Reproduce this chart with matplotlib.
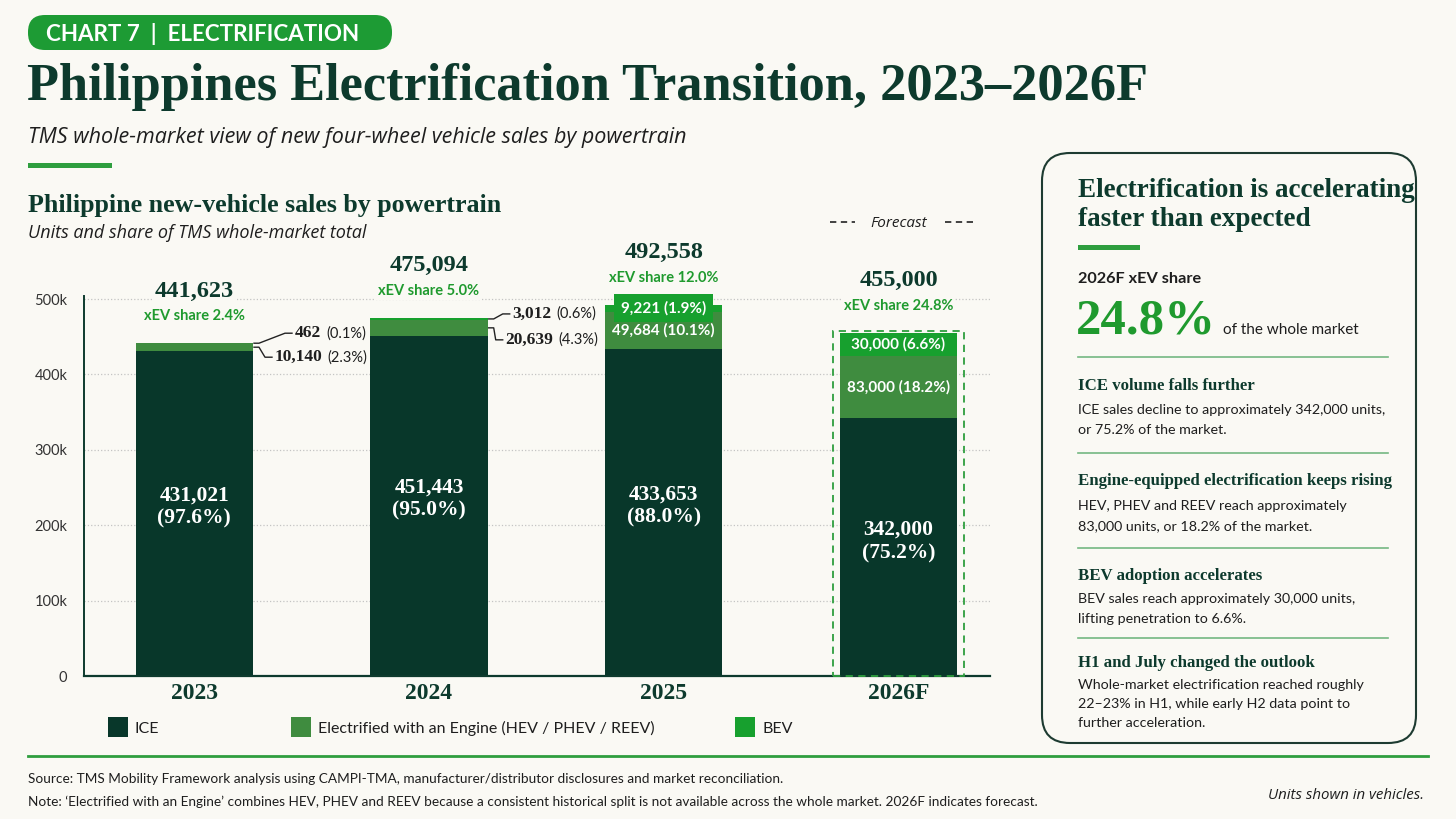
import matplotlib
matplotlib.use('Agg')
import matplotlib.pyplot as plt
from matplotlib.patches import Rectangle, FancyBboxPatch
import numpy as np

# ---------------- data ----------------
years = ['2023', '2024', '2025', '2026F']
ice = [431021, 451443, 433653, 342000]
ewe = [10140, 20639, 49684, 83000]
bev = [462, 3012, 9221, 30000]
totals = [441623, 475094, 492558, 455000]
xev_share = [2.4, 5.0, 12.0, 24.8]
ice_share = [97.6, 95.0, 88.0, 75.2]
ewe_share = [2.3, 4.3, 10.1, 18.2]
bev_share = [0.1, 0.6, 1.9, 6.6]
yticks = [0, 100000, 200000, 300000, 400000, 500000]
ytick_labels = ['0', '100k', '200k', '300k', '400k', '500k']
legend_labels = ['ICE', 'Electrified with an Engine (HEV / PHEV / REEV)', 'BEV']

# ---------------- style ----------------
BG = '#faf9f4'
DARK = '#0d3a2d'
TXT = '#1e1e1e'
ICE_C = '#08372a'
EWE_C = '#3f8c3f'
BEV_C = '#17a02e'
GREEN = '#1f9a2e'
LINE_G = '#2e9e3e'
THIN_G = '#74b882'
SERIF = 'Liberation Serif'
SANS = 'Lato'
ITAL = 'Open Sans'

fig = plt.figure(figsize=(14.56, 8.19), dpi=100, facecolor=BG)
renderer = fig.canvas.get_renderer()

ov = fig.add_axes([0, 0, 1, 1])
ov.set_xlim(0, 1456)
ov.set_ylim(819, 0)
ov.axis('off')
ov.set_zorder(0)


def T(x, y, s, size, family=SANS, weight='normal', style='normal', color=TXT,
      ha='left', va='baseline', fitw=None, **kw):
    t = ov.text(x, y, s, fontsize=size, family=family, fontweight=weight,
                fontstyle=style, color=color, ha=ha, va=va, **kw)
    if fitw:
        bb = t.get_window_extent(renderer)
        t.set_fontsize(size * fitw / bb.width)
    return t


# ---------------- header ----------------
ov.add_patch(FancyBboxPatch((28, 15), 364, 35, boxstyle='round,pad=0,rounding_size=17',
                            fc='#1d9b34', ec='none'))
T(46, 41, 'CHART 7  |  ELECTRIFICATION', 14, weight='bold', color='white', fitw=314)
T(27, 100, 'Philippines Electrification Transition, 2023\u20132026F', 40, family=SERIF,
  weight='bold', color=DARK, fitw=1122)
T(28, 143, 'TMS whole-market view of new four-wheel vehicle sales by powertrain', 14,
  family=ITAL, style='italic', color=TXT, fitw=662)
ov.add_patch(Rectangle((28, 163), 84, 5, fc=LINE_G, ec='none'))

T(28, 212, 'Philippine new-vehicle sales by powertrain', 17, family=SERIF, weight='bold',
  color=DARK, fitw=475)
T(28, 238, 'Units and share of TMS whole-market total', 12, family=ITAL, style='italic',
  color=TXT, fitw=338)

# ---------------- chart ----------------
ax = fig.add_axes([84 / 1456, 1 - 676 / 819, (990 - 84) / 1456, (676 - 296) / 819])
ax.set_zorder(1)
ax.set_facecolor('none')
x = np.arange(len(years))
w = 0.5
ice_a = np.array(ice)
ewe_a = np.array(ewe)
bev_a = np.array(bev)
ax.bar(x, ice_a, w, color=ICE_C, zorder=2)
ax.bar(x, ewe_a, w, bottom=ice_a, color=EWE_C, zorder=2)
ax.bar(x, bev_a, w, bottom=ice_a + ewe_a, color=BEV_C, zorder=2)
ax.set_xlim(-0.47, 3.39)
ax.set_ylim(0, 504000)
ax.set_yticks(yticks)
ax.set_yticklabels(ytick_labels, family=SANS, fontsize=10.5, color='#333333')
ax.set_xticks(x)
ax.set_xticklabels(years, family=SERIF, fontweight='bold', fontsize=17, color=DARK)
ax.tick_params(axis='y', length=0, pad=12)
ax.tick_params(axis='x', length=0, pad=5)
ax.yaxis.grid(True, ls=':', color='#c4c4c4', lw=0.9)
ax.set_axisbelow(True)
for s in ['top', 'right']:
    ax.spines[s].set_visible(False)
ax.spines['left'].set_color(DARK)
ax.spines['left'].set_linewidth(1.4)
ax.spines['bottom'].set_color(DARK)
ax.spines['bottom'].set_linewidth(1.6)

# forecast dashed box
ax.add_patch(Rectangle((3 - w / 2 - 0.03, 0), w + 0.06, totals[3] + 3000, fill=False,
                       ec=LINE_G, lw=1.3, ls=(0, (4, 3)), zorder=3, clip_on=False))

# totals and xEV share above bars
for i in range(len(years)):
    ax.annotate(f'{totals[i]:,}', xy=(x[i], totals[i]), xytext=(0, 52),
                textcoords='offset pixels', ha='center', va='center', family=SERIF,
                fontweight='bold', fontsize=17.5, color=DARK, annotation_clip=False,
                bbox=dict(fc=BG, ec='none', pad=2))
    ax.annotate(f'xEV share {xev_share[i]:.1f}%', xy=(x[i], totals[i]), xytext=(0, 27),
                textcoords='offset pixels', ha='center', va='center', family=SANS,
                fontweight='bold', fontsize=10.5, color=GREEN, annotation_clip=False,
                bbox=dict(fc=BG, ec='none', pad=1.5))
    # ICE label inside
    ax.text(x[i], ice[i] * 0.52, f'{ice[i]:,}\n({ice_share[i]:.1f}%)', ha='center',
            va='center', family=SERIF, fontweight='bold', fontsize=15.5, color='white',
            linespacing=1.25, zorder=4)

# outside labels for 2023 / 2024 (with leader lines)
offs = {0: [(42, 10), (22, -10)], 1: [(25, 5), (18, -12)]}
to_ov = lambda p: ov.transData.inverted().transform(p)
for i in [0, 1]:
    pts = [(ice[i] + ewe[i] + bev[i] / 2, bev[i], bev_share[i]),
           (ice[i] + ewe[i] / 2, ewe[i], ewe_share[i])]
    for k, (yv, val, sh) in enumerate(pts):
        dx, dy = offs[i][k]
        ax_disp = ax.transData.transform((x[i] + w / 2, yv))
        a_ov = to_ov(ax_disp)
        t_ov = to_ov((ax_disp[0] + dx, ax_disp[1] + dy))
        t = ov.text(t_ov[0], t_ov[1], f'{val:,}', ha='left', va='center', family=SERIF,
                    fontweight='bold', fontsize=12.5, color=TXT, zorder=5)
        bb = t.get_window_extent(renderer)
        p_ov = to_ov((bb.x1 + 5, (bb.y0 + bb.y1) / 2))
        ov.text(p_ov[0], p_ov[1], f'({sh:.1f}%)', ha='left', va='center', family=SANS,
                fontsize=10.5, color=TXT, zorder=5)
        # leader: short horizontal from bar edge, then slant to text
        ov.plot([a_ov[0] + 1, a_ov[0] + 6, t_ov[0] - 10, t_ov[0] - 3],
                [a_ov[1], a_ov[1], t_ov[1], t_ov[1]], color='#222222', lw=1.0,
                solid_joinstyle='round', zorder=5)

# inside labels for 2025 / 2026F
for i in [2, 3]:
    ax.text(x[i], ice[i] + ewe[i] / 2, f'{ewe[i]:,} ({ewe_share[i]:.1f}%)', ha='center',
            va='center', family=SANS, fontweight='bold', fontsize=11, color='white', zorder=4)
    bb = dict(boxstyle='square,pad=0.45', fc=BEV_C, ec='none') if i == 2 else None
    ax.text(x[i], ice[i] + ewe[i] + bev[i] / 2, f'{bev[i]:,} ({bev_share[i]:.1f}%)',
            ha='center', va='center', family=SANS, fontweight='bold', fontsize=11,
            color='white', zorder=5, bbox=bb)

# forecast header
xc = to_ov(ax.transData.transform((3, 0)))[0]
T(xc, 227, 'Forecast', 11, family=ITAL, style='italic', ha='center', color=TXT)
ov.plot([xc - 68, xc - 43], [222, 222], color='#333333', lw=1.3, dashes=(3.5, 2.5))
ov.plot([xc + 47, xc + 78], [222, 222], color='#333333', lw=1.3, dashes=(3.5, 2.5))

# legend
leg_x = [108, 291, 735]
leg_c = [ICE_C, EWE_C, BEV_C]
for lx, lc, lt in zip(leg_x, leg_c, legend_labels):
    ov.add_patch(Rectangle((lx, 717), 20, 20, fc=lc, ec='none'))
    T(lx + 27, 733, lt, 11.5, color=TXT)

# ---------------- right panel ----------------
ov.add_patch(FancyBboxPatch((1042, 153), 374, 590, boxstyle='round,pad=0,rounding_size=28',
                            fc='none', ec='#1d3b31', lw=1.5))
pt = T(1078, 197, 'Electrification is accelerating', 17, family=SERIF, weight='bold',
       color=DARK, fitw=338)
T(1078, 226, 'faster than expected', pt.get_fontsize(), family=SERIF, weight='bold', color=DARK)
ov.add_patch(Rectangle((1078, 245), 62, 5, fc=LINE_G, ec='none'))
T(1078, 283, '2026F xEV share', 11, weight='bold', color=TXT, fitw=124)
T(1076, 334, '24.8%', 38, family=SERIF, weight='bold', color=GREEN, fitw=140)
T(1223, 334, 'of the whole market', 11, color=TXT, fitw=136)

for yl in [357, 453, 548, 638]:
    ov.plot([1078, 1388], [yl, yl], color=THIN_G, lw=1.2)

hs = T(1078, 485, 'Engine-equipped electrification keeps rising', 12.5, family=SERIF,
       weight='bold', color=DARK, fitw=316).get_fontsize()
bs = T(1078, 414, 'ICE sales decline to approximately 342,000 units,', 10, color=TXT,
       fitw=307).get_fontsize()
T(1078, 390, 'ICE volume falls further', hs, family=SERIF, weight='bold', color=DARK)
T(1078, 434, 'or 75.2% of the market.', bs, color=TXT)
T(1078, 510, 'HEV, PHEV and REEV reach approximately', bs, color=TXT)
T(1078, 530, '83,000 units, or 18.2% of the market.', bs, color=TXT)
T(1078, 580, 'BEV adoption accelerates', hs, family=SERIF, weight='bold', color=DARK)
T(1078, 603, 'BEV sales reach approximately 30,000 units,', bs, color=TXT)
T(1078, 623, 'lifting penetration to 6.6%.', bs, color=TXT)
T(1078, 667, 'H1 and July changed the outlook', hs, family=SERIF, weight='bold', color=DARK)
T(1078, 689, 'Whole-market electrification reached roughly', bs, color=TXT)
T(1078, 708, '22\u201323% in H1, while early H2 data point to', bs, color=TXT)
T(1078, 727, 'further acceleration.', bs, color=TXT)

# ---------------- footer ----------------
ov.plot([28, 1428], [756, 756], color=LINE_G, lw=2)
fs = T(28, 783, 'Source: TMS Mobility Framework analysis using CAMPI-TMA, '
       'manufacturer/distributor disclosures and market reconciliation.', 9,
       color=TXT, fitw=756).get_fontsize()
T(28, 806, 'Note: \u2018Electrified with an Engine\u2019 combines HEV, PHEV and REEV because a '
  'consistent historical split is not available across the whole market. 2026F indicates '
  'forecast.', fs, color=TXT)
T(1424, 799, 'Units shown in vehicles.', 10, family=ITAL, style='italic', color=TXT,
  ha='right', fitw=156)

fig.savefig('out.png', dpi=100, facecolor=BG)
